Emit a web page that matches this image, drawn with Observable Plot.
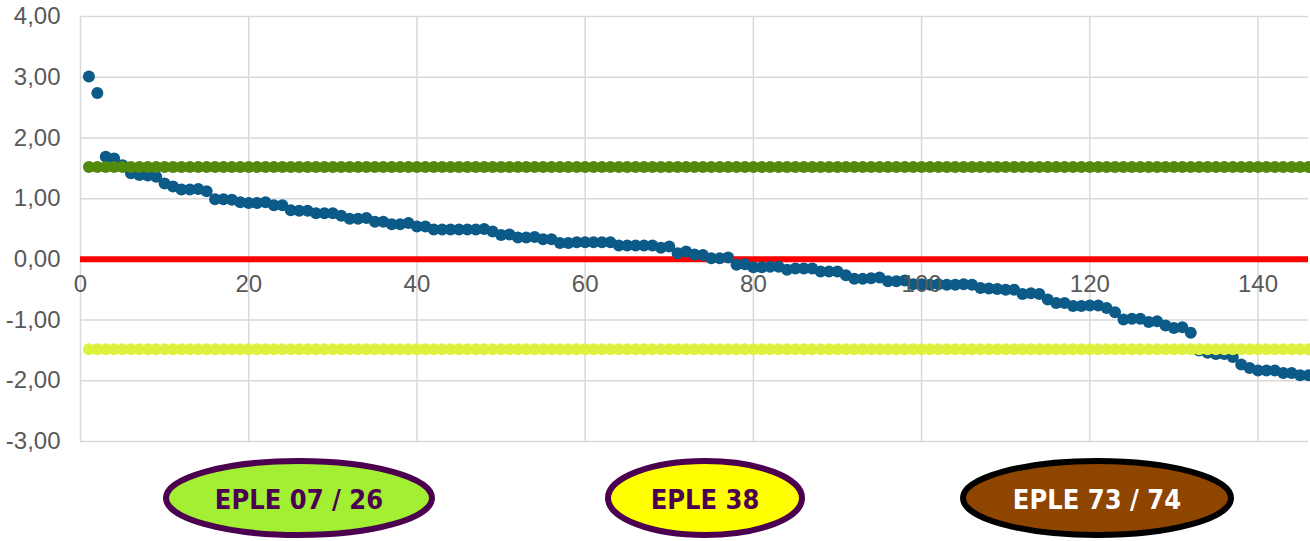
<!DOCTYPE html>
<html><head><meta charset="utf-8">
<script src="https://cdn.jsdelivr.net/npm/d3@7"></script>
<script src="https://cdn.jsdelivr.net/npm/@observablehq/plot@0.6"></script>
<style>
body{margin:0;background:#fff;}
#chart svg,#legend svg{display:block;}
</style></head><body>
<div id="chart"></div>
<div id="legend"></div>
<script>
// Scores by rank (1..146)
const scores = [
  3.01, 2.74, 1.69, 1.66, 1.55, 1.42, 1.39, 1.38, 1.36, 1.25,
  1.20, 1.15, 1.15, 1.16, 1.12, 0.99, 0.99, 0.98, 0.94, 0.93,
  0.93, 0.94, 0.89, 0.89, 0.81, 0.80, 0.80, 0.76, 0.76, 0.76,
  0.72, 0.67, 0.67, 0.68, 0.62, 0.62, 0.58, 0.58, 0.60, 0.54,
  0.54, 0.49, 0.49, 0.49, 0.49, 0.49, 0.49, 0.50, 0.46, 0.40,
  0.41, 0.36, 0.36, 0.37, 0.33, 0.33, 0.27, 0.27, 0.28, 0.28,
  0.28, 0.28, 0.28, 0.23, 0.23, 0.23, 0.23, 0.23, 0.19, 0.21,
  0.10, 0.13, 0.08, 0.07, 0.02, 0.02, 0.03, -0.09, -0.08, -0.13,
  -0.13, -0.12, -0.12, -0.17, -0.15, -0.15, -0.15, -0.20, -0.20, -0.20,
  -0.26, -0.32, -0.32, -0.31, -0.30, -0.36, -0.36, -0.35, -0.41, -0.41,
  -0.42, -0.41, -0.42, -0.42, -0.41, -0.42, -0.47, -0.48, -0.49, -0.50,
  -0.50, -0.57, -0.56, -0.57, -0.66, -0.72, -0.72, -0.77, -0.77, -0.76,
  -0.76, -0.80, -0.87, -0.99, -0.98, -0.98, -1.03, -1.02, -1.09, -1.13,
  -1.12, -1.21, -1.50, -1.54, -1.56, -1.56, -1.61, -1.73, -1.79, -1.83,
  -1.83, -1.83, -1.87, -1.87, -1.91, -1.91
];
const upperBound = 1.52;
const lowerBound = -1.48;
const xTicks = [0, 20, 40, 60, 80, 100, 120, 140];
const yTicks = [-3, -2, -1, 0, 1, 2, 3, 4];
const yTickLabels = ["-3,00", "-2,00", "-1,00", "0,00", "1,00", "2,00", "3,00", "4,00"];
const legendLabels = ["EPLE 07 / 26", "EPLE 38", "EPLE 73 / 74"];

// styles
const legendStyle = [
  {cx: 299, rx: 133, fill: "#a2ef33", stroke: "#4b0050", text: "#4b0050"},
  {cx: 705, rx: 97,  fill: "#ffff00", stroke: "#4b0050", text: "#4b0050"},
  {cx: 1097, rx: 134, fill: "#8e4500", stroke: "#000000", text: "#ffffff"}
];

const rows = scores.map((v, i) => ({rank: i + 1, score: v}));

const plot = Plot.plot({
  width: 1310, height: 455,
  marginLeft: 80, marginRight: 2, marginTop: 16, marginBottom: 14,
  x: {domain: [0, 146], axis: null},
  y: {domain: [-3, 4], axis: null},
  style: {fontFamily: "'Liberation Sans', Arial, sans-serif", background: "#fff", overflow: "visible"},
  marks: [
    Plot.ruleY(yTicks, {stroke: "#d9d9d9", strokeWidth: 1.5}),
    Plot.ruleX(xTicks, {stroke: "#d9d9d9", strokeWidth: 1.5}),
    Plot.ruleY([0], {stroke: "#ff0000", strokeWidth: 6}),
    Plot.dot(rows, {x: "rank", y: "score", r: 6, fill: "#0b5a87"}),
    Plot.dot(rows, {x: "rank", y: () => upperBound, r: 6, fill: "#528a0b"}),
    Plot.dot(rows, {x: "rank", y: () => lowerBound, r: 6, fill: "#dcf23e"}),
    Plot.text(yTicks, {x: 0, y: d => d, text: (d, i) => yTickLabels[i], textAnchor: "end", dx: -20, fill: "#595959", fontSize: 24}),
    Plot.text(xTicks, {x: d => d, y: 0, text: d => String(d), dy: 25, fill: "#595959", fontSize: 24})
  ]
});
document.getElementById("chart").appendChild(plot);

const leg = d3.select("#legend").append("svg").attr("width", 1310).attr("height", 86);
legendLabels.forEach((lab, i) => {
  const s = legendStyle[i];
  leg.append("ellipse").attr("cx", s.cx).attr("cy", 43).attr("rx", s.rx).attr("ry", 37)
    .attr("fill", s.fill).attr("stroke", s.stroke).attr("stroke-width", 6);
  leg.append("text").attr("x", s.cx).attr("y", 44)
    .attr("text-anchor", "middle").attr("dominant-baseline", "central")
    .attr("font-family", "'DejaVu Sans Condensed', 'DejaVu Sans', sans-serif")
    .attr("font-stretch", "condensed").attr("font-weight", "bold").attr("font-size", 27)
    .attr("fill", s.text).text(lab);
});
</script>
</body></html>
